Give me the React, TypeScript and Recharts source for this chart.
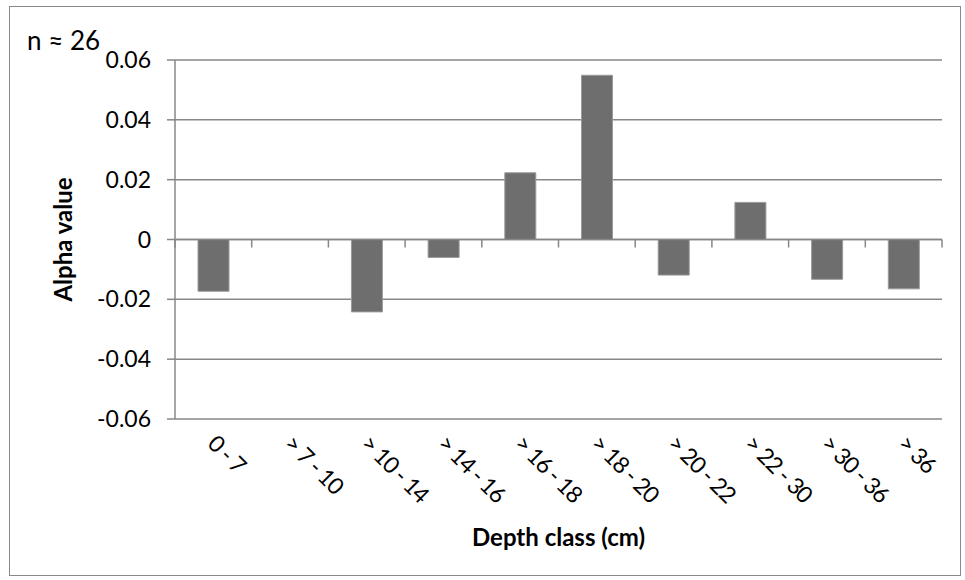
import React from 'react';
import {Bar, BarChart, CartesianGrid, ReferenceLine, XAxis, YAxis} from 'recharts';

const depthClasses = ['0 - 7', '> 7 - 10', '> 10 - 14', '> 14 - 16', '> 16 - 18', '> 18 - 20', '> 20 - 22', '> 22 - 30', '> 30 - 36', '> 36'];
const alphaValues = [-0.0173, 0, -0.0242, -0.006, 0.0223, 0.0549, -0.0119, 0.0124, -0.0133, -0.0165];
const yTicks = [-0.06, -0.04, -0.02, 0, 0.02, 0.04, 0.06];
const sampleNote = 'n ≈ 26';

const data = depthClasses.map((depth, i) => ({depth, alpha: alphaValues[i]}));

const FONT = 'Lato, "Open Sans", sans-serif';
const GRID = '#878787';
const FS = 23;

const DepthTick = (props: any) => {
    const {x, y, payload} = props;
    const bx = x - 7;
    const by = y + 18;
    return (
        <text x={bx} y={by} transform={`rotate(45, ${bx}, ${by})`} textAnchor="start"
              fontSize={FS} fontFamily={FONT} fill="#000" letterSpacing={-1}>
            {payload.value}
        </text>
    );
};

// zero axis line with tick marks at category boundaries
const ZeroAxis = (props: any) => {
    const {x1, x2, y1} = props;
    const step = (x2 - x1) / depthClasses.length;
    const marks = [];
    for (let i = 0; i <= depthClasses.length; i++) {
        const tx = x1 + step * i;
        marks.push(<line key={i} x1={tx} x2={tx} y1={y1} y2={y1 + 8} stroke={GRID} strokeWidth={1.5}/>);
    }
    return (
        <g>
            <line x1={x1} x2={x2} y1={y1} y2={y1} stroke={GRID} strokeWidth={1.5}/>
            {marks}
        </g>
    );
};

export default function App() {
    return (
        <div style={{position: 'absolute', left: 0, top: 0, width: 965, height: 580, background: '#fff'}}>
            <div style={{
                position: 'absolute', left: 9, top: 6, width: 952, height: 570,
                border: '1px solid #898989', boxSizing: 'border-box'
            }}/>
            <BarChart
                width={965}
                height={580}
                data={data}
                barCategoryGap="30%"
                margin={{top: 60, right: 23, left: 75, bottom: 0}}
                style={{position: 'absolute', left: 0, top: 0}}
            >
                <CartesianGrid vertical={false} stroke={GRID} strokeWidth={1.5}/>
                <XAxis
                    dataKey="depth"
                    height={161}
                    axisLine={false}
                    tickLine={false}
                    interval={0}
                    tick={<DepthTick/>}
                    label={{
                        value: 'Depth class (cm)', position: 'insideBottom', offset: 34,
                        style: {fontSize: 24, fontWeight: 700, fontFamily: FONT, fill: '#000'}
                    }}
                />
                <YAxis
                    width={100}
                    domain={[-0.06, 0.06]}
                    ticks={yTicks}
                    tickFormatter={(v: number) => (v === 0 ? '0' : v.toFixed(2))}
                    axisLine={{stroke: GRID, strokeWidth: 1.5}}
                    tickLine={{stroke: GRID, strokeWidth: 1.5}}
                    tickSize={8}
                    tickMargin={16}
                    tick={{fontSize: FS, fontFamily: FONT, fill: '#000'}}
                    label={{
                        value: 'Alpha value', angle: -90, position: 'insideLeft', offset: -12,
                        style: {fontSize: 24, fontWeight: 700, fontFamily: FONT, fill: '#000', textAnchor: 'middle'}
                    }}
                />
                <Bar dataKey="alpha" fill="#6e6e6e" stroke="#9a9a9a" strokeWidth={1} isAnimationActive={false}/>
                <ReferenceLine y={0} shape={<ZeroAxis/>}/>
            </BarChart>
            <div style={{
                position: 'absolute', left: 27, top: 27, fontSize: 26, fontFamily: FONT, color: '#000', lineHeight: 1
            }}>
                {sampleNote}
            </div>
        </div>
    );
}
